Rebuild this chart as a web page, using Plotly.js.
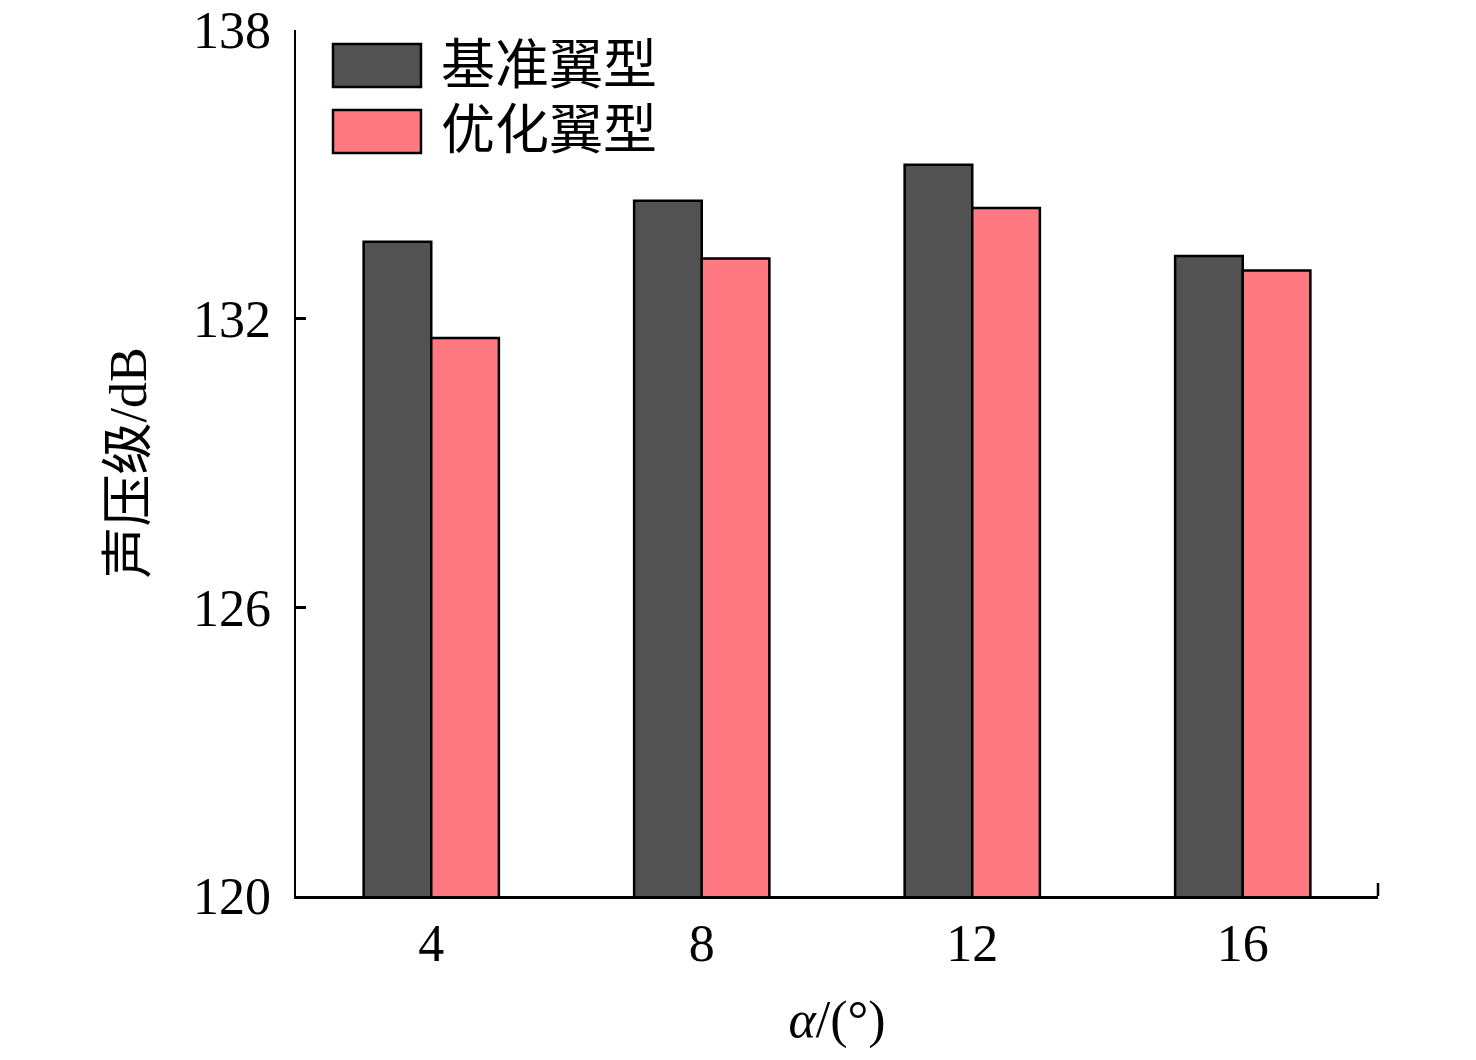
<!DOCTYPE html>
<html>
<head>
<meta charset="utf-8">
<script src="https://cdn.plot.ly/plotly-3.0.1.min.js"></script>
<style>
  html, body { margin: 0; padding: 0; background: #fff; }
  #chart { width: 1476px; height: 1060px; }
</style>
</head>
<body>
<div id="chart"></div>
<script>
// angle of attack categories and sound pressure levels (dB)
var angles = ['4', '8', '12', '16'];
var seriesNames = ['基准翼型', '优化翼型'];
var baseSPL = [133.6, 134.45, 135.2, 133.3];
var optSPL = [131.6, 133.25, 134.3, 133.0];
var yTicks = [120, 126, 132, 138];

var colors = ['#525252', '#ff7983'];
var font = 'Liberation Serif, Times New Roman, Noto Sans CJK SC, serif';

var traces = [baseSPL, optSPL].map(function (vals, i) {
    return {
        type: 'bar',
        x: angles,
        y: vals,
        name: seriesNames[i],
        marker: { color: colors[i], line: { color: '#000', width: 2.5 } },
        hoverinfo: 'x+y'
    };
});

// hand-drawn legend: big swatches like the original figure
var shapes = [];
var annotations = [];
var legendRows = [[0.9838, 0.9342], [0.9076, 0.8580]];
seriesNames.forEach(function (name, i) {
    var r = legendRows[i];
    shapes.push({
        type: 'rect', xref: 'paper', yref: 'paper',
        x0: 0.0342, x1: 0.1155, y0: r[1], y1: r[0],
        fillcolor: colors[i], line: { color: '#000', width: 2.5 }
    });
    annotations.push({
        xref: 'paper', yref: 'paper', x: 0.1320, y: (r[0] + r[1]) / 2,
        xanchor: 'left', yanchor: 'middle', showarrow: false,
        text: name, font: { family: font, size: 54, color: '#000' }
    });
});
// small end tick at the right of the x axis
shapes.push({
    type: 'line', xref: 'paper', yref: 'paper',
    x0: 1, x1: 1, y0: 0, y1: 0.015,
    line: { color: '#000', width: 2.5 }
});

var layout = {
    width: 1476,
    height: 1060,
    margin: { l: 296, r: 98, t: 30, b: 164 },
    paper_bgcolor: '#fff',
    plot_bgcolor: '#fff',
    showlegend: false,
    barmode: 'group',
    bargap: 0.5,
    bargroupgap: 0,
    font: { family: font, size: 52, color: '#000' },
    xaxis: {
        type: 'category',
        range: [-0.5, 3.5],
        showline: true, linecolor: '#000', linewidth: 2.5,
        ticks: '', showgrid: false, zeroline: false,
        ticklabelstandoff: 0,
        tickfont: { family: font, size: 52 },
        title: { text: '<i>α</i>/(°)', font: { family: font, size: 52 }, standoff: 30 }
    },
    yaxis: {
        range: [120, 138],
        tickvals: yTicks,
        ticktext: yTicks.map(String),
        showline: true, linecolor: '#000', linewidth: 2.5,
        ticks: 'inside', ticklen: 10, tickwidth: 2.5, tickcolor: '#000',
        showgrid: false, zeroline: false,
        ticklabelstandoff: 12,
        tickfont: { family: font, size: 52 },
        title: { text: '声压级/dB', font: { family: font, size: 52 }, standoff: 30 }
    },
    shapes: shapes,
    annotations: annotations
};

Plotly.newPlot('chart', traces, layout, { displayModeBar: false, staticPlot: true });
</script>
</body>
</html>
